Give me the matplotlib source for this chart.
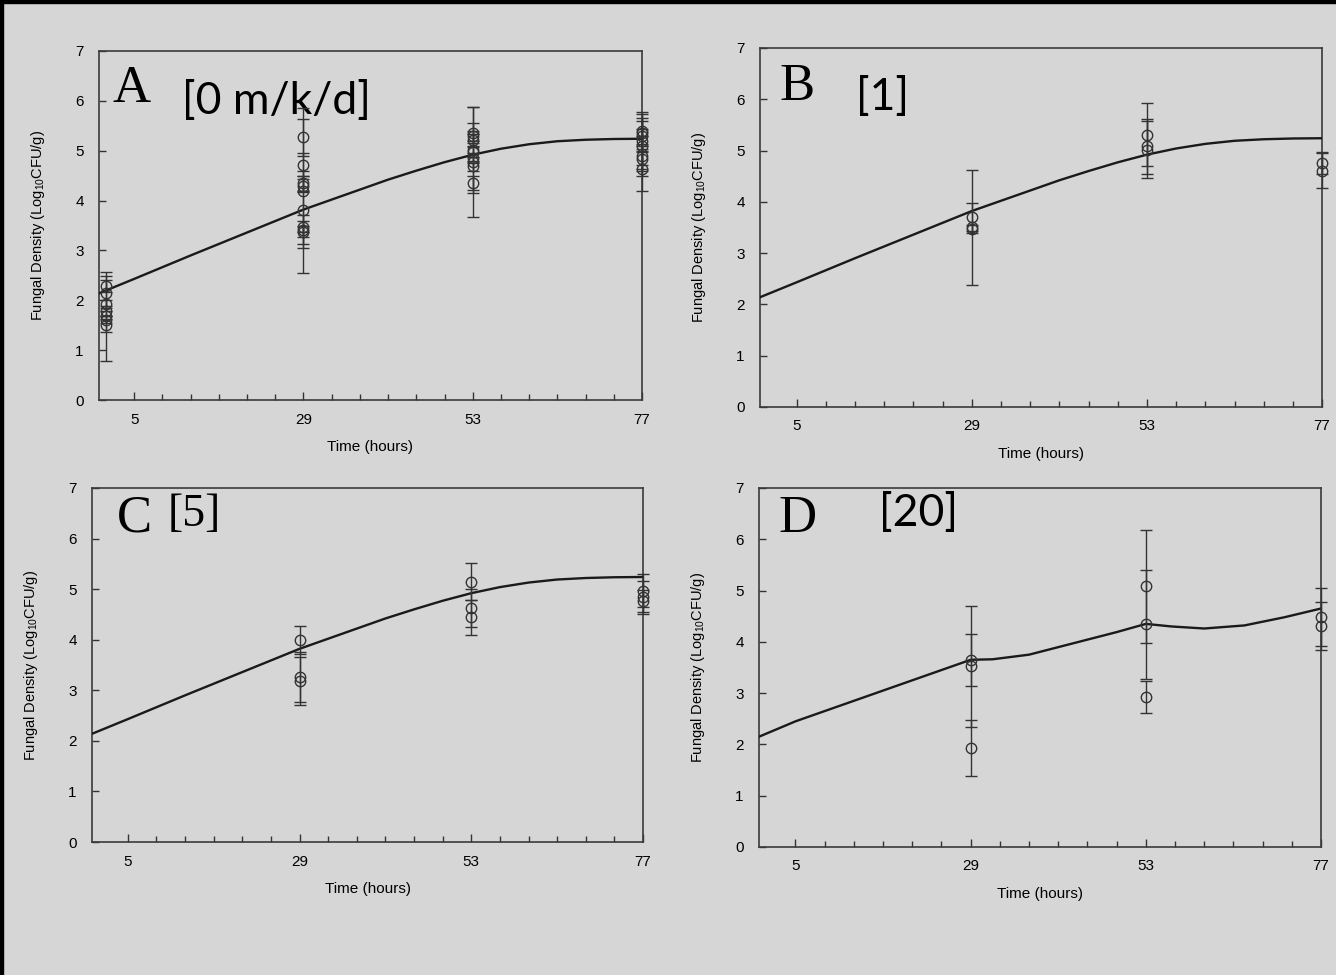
import numpy as np
import matplotlib
matplotlib.use('Agg')
import matplotlib.pyplot as plt
from matplotlib.patches import Rectangle

plt.rcParams['font.family'] = ['Liberation Sans', 'DejaVu Sans']
plt.rcParams['mathtext.fontset'] = 'custom'
plt.rcParams['mathtext.rm'] = 'Liberation Sans'
plt.rcParams['mathtext.it'] = 'Liberation Sans'

BG = '#d6d6d6'
INK = '#1a1a1a'

# model curves (time in hours, log10 CFU/g)
curve_t = [0, 5, 13, 21, 29, 33, 37, 41, 45, 49, 53, 57, 61, 65, 69, 73, 77]
curve_ctrl = [2.14, 2.43, 2.90, 3.36, 3.82, 4.02, 4.22, 4.42, 4.60, 4.77,
              4.92, 5.04, 5.13, 5.19, 5.22, 5.235, 5.24]
curve_t_d = [0, 5, 13, 21, 29, 32, 37, 43, 49, 53, 56.5, 61, 66.5, 72, 77]
curve_d = [2.15, 2.45, 2.85, 3.25, 3.65, 3.66, 3.75, 3.97, 4.19, 4.35,
           4.30, 4.26, 4.32, 4.48, 4.65]

# observations: times, values, error (+/-)
a_t = [1]*7 + [29]*9 + [53]*9 + [77]*8
a_y = [2.29, 2.14, 1.93, 1.78, 1.68, 1.61, 1.50,
       5.27, 4.72, 4.35, 4.30, 4.20, 3.82, 3.48, 3.42, 3.38,
       5.35, 5.30, 5.22, 5.02, 4.98, 4.85, 4.78, 4.70, 4.35,
       5.39, 5.35, 5.29, 5.19, 5.09, 4.89, 4.84, 4.64]
a_err = [0.12, 0.35, 0.08, 0.10, 0.89, 0.07, 0.13,
         0.37, 0.23, 0.15, 0.13, 1.65, 0.78, 0.12, 0.29, 0.12,
         0.20, 0.10, 0.12, 0.86, 0.10, 0.10, 1.10, 0.10, 0.14,
         0.39, 0.38, 0.15, 0.47, 0.50, 0.40, 0.20, 0.45]

b_t = [29]*3 + [53]*3 + [77]*2
b_y = [3.70, 3.50, 3.47, 5.31, 5.08, 5.02, 4.76, 4.61]
b_err = [0.27, 1.12, 0.08, 0.62, 0.53, 0.55, 0.21, 0.35]

c_t = [29]*3 + [53]*3 + [77]*3
c_y = [4.00, 3.26, 3.18, 5.15, 4.63, 4.44, 4.97, 4.84, 4.76]
c_err = [0.28, 0.50, 0.47, 0.37, 0.38, 0.35, 0.33, 0.33, 0.22]

d_t = [29]*3 + [53]*3 + [77]*2
d_y = [3.65, 3.52, 1.93, 5.08, 4.34, 2.92, 4.48, 4.31]
d_err = [0.51, 1.18, 0.55, 1.10, 1.07, 0.31, 0.57, 0.46]

major_x = [5, 29, 53, 77]
minor_x = [t for t in range(9, 77, 4) if t not in major_x]

panels = [
    dict(pos=[0.0741, 0.5897, 0.4064, 0.358], t=a_t, y=a_y, e=a_err,
         ct=curve_t, cy=curve_ctrl, letter='A', letter_xy=(0.025, 0.89),
         dose='[0 m/k/d]', dose_xy=(0.152, 0.855), dose_font='Lato', dose_size=32),
    dict(pos=[0.5689, 0.5826, 0.4207, 0.3682], t=b_t, y=b_y, e=b_err,
         ct=curve_t, cy=curve_ctrl, letter='B', letter_xy=(0.035, 0.89),
         dose='[1]', dose_xy=(0.17, 0.862), dose_font='Lato', dose_size=32),
    dict(pos=[0.0689, 0.1364, 0.4124, 0.3631], t=c_t, y=c_y, e=c_err,
         ct=curve_t, cy=curve_ctrl, letter='C', letter_xy=(0.045, 0.915),
         dose='[5]', dose_xy=(0.137, 0.925), dose_font='Liberation Serif', dose_size=33),
    dict(pos=[0.5681, 0.1313, 0.4207, 0.3682], t=d_t, y=d_y, e=d_err,
         ct=curve_t_d, cy=curve_d, letter='D', letter_xy=(0.035, 0.915),
         dose='[20]', dose_xy=(0.214, 0.928), dose_font='Lato', dose_size=32),
]

fig = plt.figure(figsize=(13.36, 9.75), dpi=100, facecolor=BG)

# black frame on top and left edge
fig.patches.append(Rectangle((0, 0.9965), 1, 0.0035, transform=fig.transFigure,
                             color='black', zorder=10))
fig.patches.append(Rectangle((0, 0), 0.0025, 1, transform=fig.transFigure,
                             color='black', zorder=10))

for p in panels:
    ax = fig.add_axes(p['pos'])
    ax.set_facecolor(BG)
    ax.plot(p['ct'], p['cy'], color=INK, lw=1.7, zorder=3)
    ax.errorbar(p['t'], p['y'], yerr=p['e'], fmt='o', mfc='none', mec='#333333',
                ms=7.5, mew=1.0, ecolor='#333333', elinewidth=1.0, capsize=4.5,
                capthick=1.0, clip_on=False, zorder=4)
    ax.set_xlim(0, 77)
    ax.set_ylim(0, 7)
    ax.set_xticks(major_x)
    ax.set_xticks(minor_x, minor=True)
    ax.set_yticks(range(0, 8))
    ax.tick_params(axis='x', which='major', direction='in', length=6, width=1.0,
                   pad=9, labelsize=11, colors='#333333', labelcolor='black')
    ax.tick_params(axis='x', which='minor', direction='in', length=4, width=1.0,
                   colors='#333333')
    ax.tick_params(axis='y', direction='in', length=5, width=1.0, pad=11,
                   labelsize=11, colors='#333333', labelcolor='black')
    for s in ax.spines.values():
        s.set_color('#3a3a3a')
        s.set_linewidth(1.2)
    ax.set_xlabel('Time (hours)', fontsize=11, labelpad=10)
    ax.set_ylabel(r'Fungal Density (Log$_{10}$CFU/g)', fontsize=10.5, labelpad=20)
    ax.text(p['letter_xy'][0], p['letter_xy'][1], p['letter'], transform=ax.transAxes,
            fontsize=38, family='Liberation Serif', va='center', ha='left', color='black')
    ax.text(p['dose_xy'][0], p['dose_xy'][1], p['dose'], transform=ax.transAxes,
            fontsize=p['dose_size'], family=p['dose_font'], va='center', ha='left',
            color='black')

fig.savefig('out.png', dpi=100, facecolor=BG)
